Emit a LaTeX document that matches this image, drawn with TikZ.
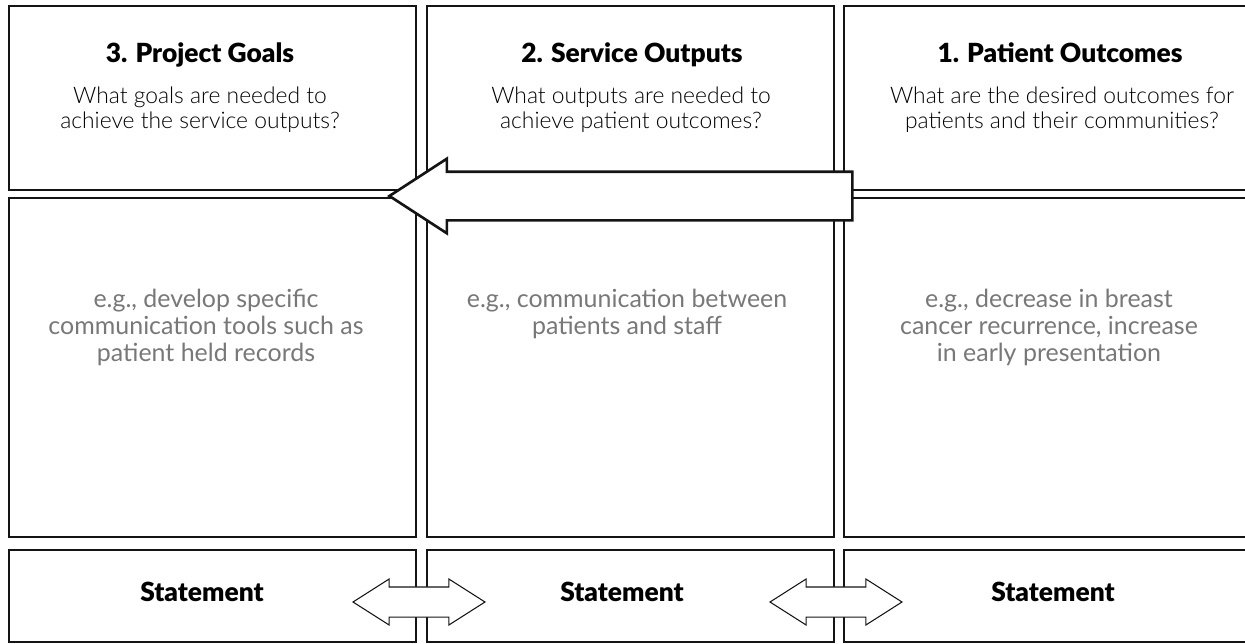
\documentclass[tikz,border=0pt]{standalone}
\usepackage{fontspec}
\setmainfont{Lato}
\newfontfamily\lightfont{Lato Light}
\newfontfamily\headfont{Lato Black}
\usetikzlibrary{shapes.arrows}
\definecolor{ink}{HTML}{141414}
\definecolor{pencil}{HTML}{787878}

\begin{document}
\begin{tikzpicture}[x=0.02cm,y=-0.02cm,
  cell/.style={draw=ink,line width=1.3pt,anchor=north west,minimum width=8.14cm,inner sep=0pt},
  hd/.style={font=\headfont\fontsize{15}{18}\selectfont,anchor=base,inner sep=0pt},
  q/.style={font=\lightfont\fontsize{13}{13.8}\selectfont,align=center,anchor=north,inner sep=0pt},
  hand/.style={font=\fontsize{14.2}{15.4}\selectfont,text=pencil,align=center,anchor=north,inner sep=0pt},
  bigarrow/.style={single arrow,draw=ink,fill=white,line width=1.5pt,shape border rotate=180,inner sep=0pt,inner ysep=0.46cm,single arrow head extend=0.26cm,single arrow tip angle=66,minimum height=9.26cm,anchor=tip},
  dblarrow/.style={double arrow,draw=ink,fill=white,line width=0.6pt,inner sep=0pt,inner ysep=0.29cm,double arrow head extend=0.16cm,double arrow tip angle=65,minimum height=2.64cm}]
  \path[use as bounding box] (0,0) rectangle (1245,643);
  \clip (0,0) rectangle (1245,643);
  \fill[white] (0,0) rectangle (1245,643);
  % one column per stage: question, example, statement
  \foreach \i/\x in {1/8,2/426,3/843} {
    \node[cell,minimum height=3.68cm] (t\i) at (\x,5) {};
    \node[cell,minimum height=6.78cm] (m\i) at (\x,197) {};
    \node[cell,minimum height=1.84cm] (s\i) at (\x,549) {};
  }
  \node[hd] (h3) at (200,62) {3. Project Goals};
  \node[hd] (h2) at (632,62) {2. Service Outputs};
  \node[hd] (h1) at (1060,62) {1. Patient Outcomes};
  \node[q] (q3) at (200,87) {What goals are needed to\\achieve the service outputs?};
  \node[q] (q2) at (631,87) {What outputs are needed to\\achieve patient outcomes?};
  \node[q] (q1) at (1062,87) {What are the desired outcomes for\\patients and their communities?};
  \node[hand] (e3) at (206,289) {e.g., develop specific\\communication tools such as\\patient held records};
  \node[hand] (e2) at (627,289) {e.g., communication between\\patients and staff};
  \node[hand] (e1) at (1049,289) {e.g., decrease in breast\\cancer recurrence, increase\\in early presentation};
  \node[hd] (st3) at (202,601) {Statement};
  \node[hd] (st2) at (622,601) {Statement};
  \node[hd] (st1) at (1053,601) {Statement};
  % arrows sit on top of the column edges
  \node[bigarrow] (flow) at (387,196) {};
  \node[dblarrow] (link12) at (419,602) {};
  \node[dblarrow] (link23) at (836,602) {};
\end{tikzpicture}
\end{document}
